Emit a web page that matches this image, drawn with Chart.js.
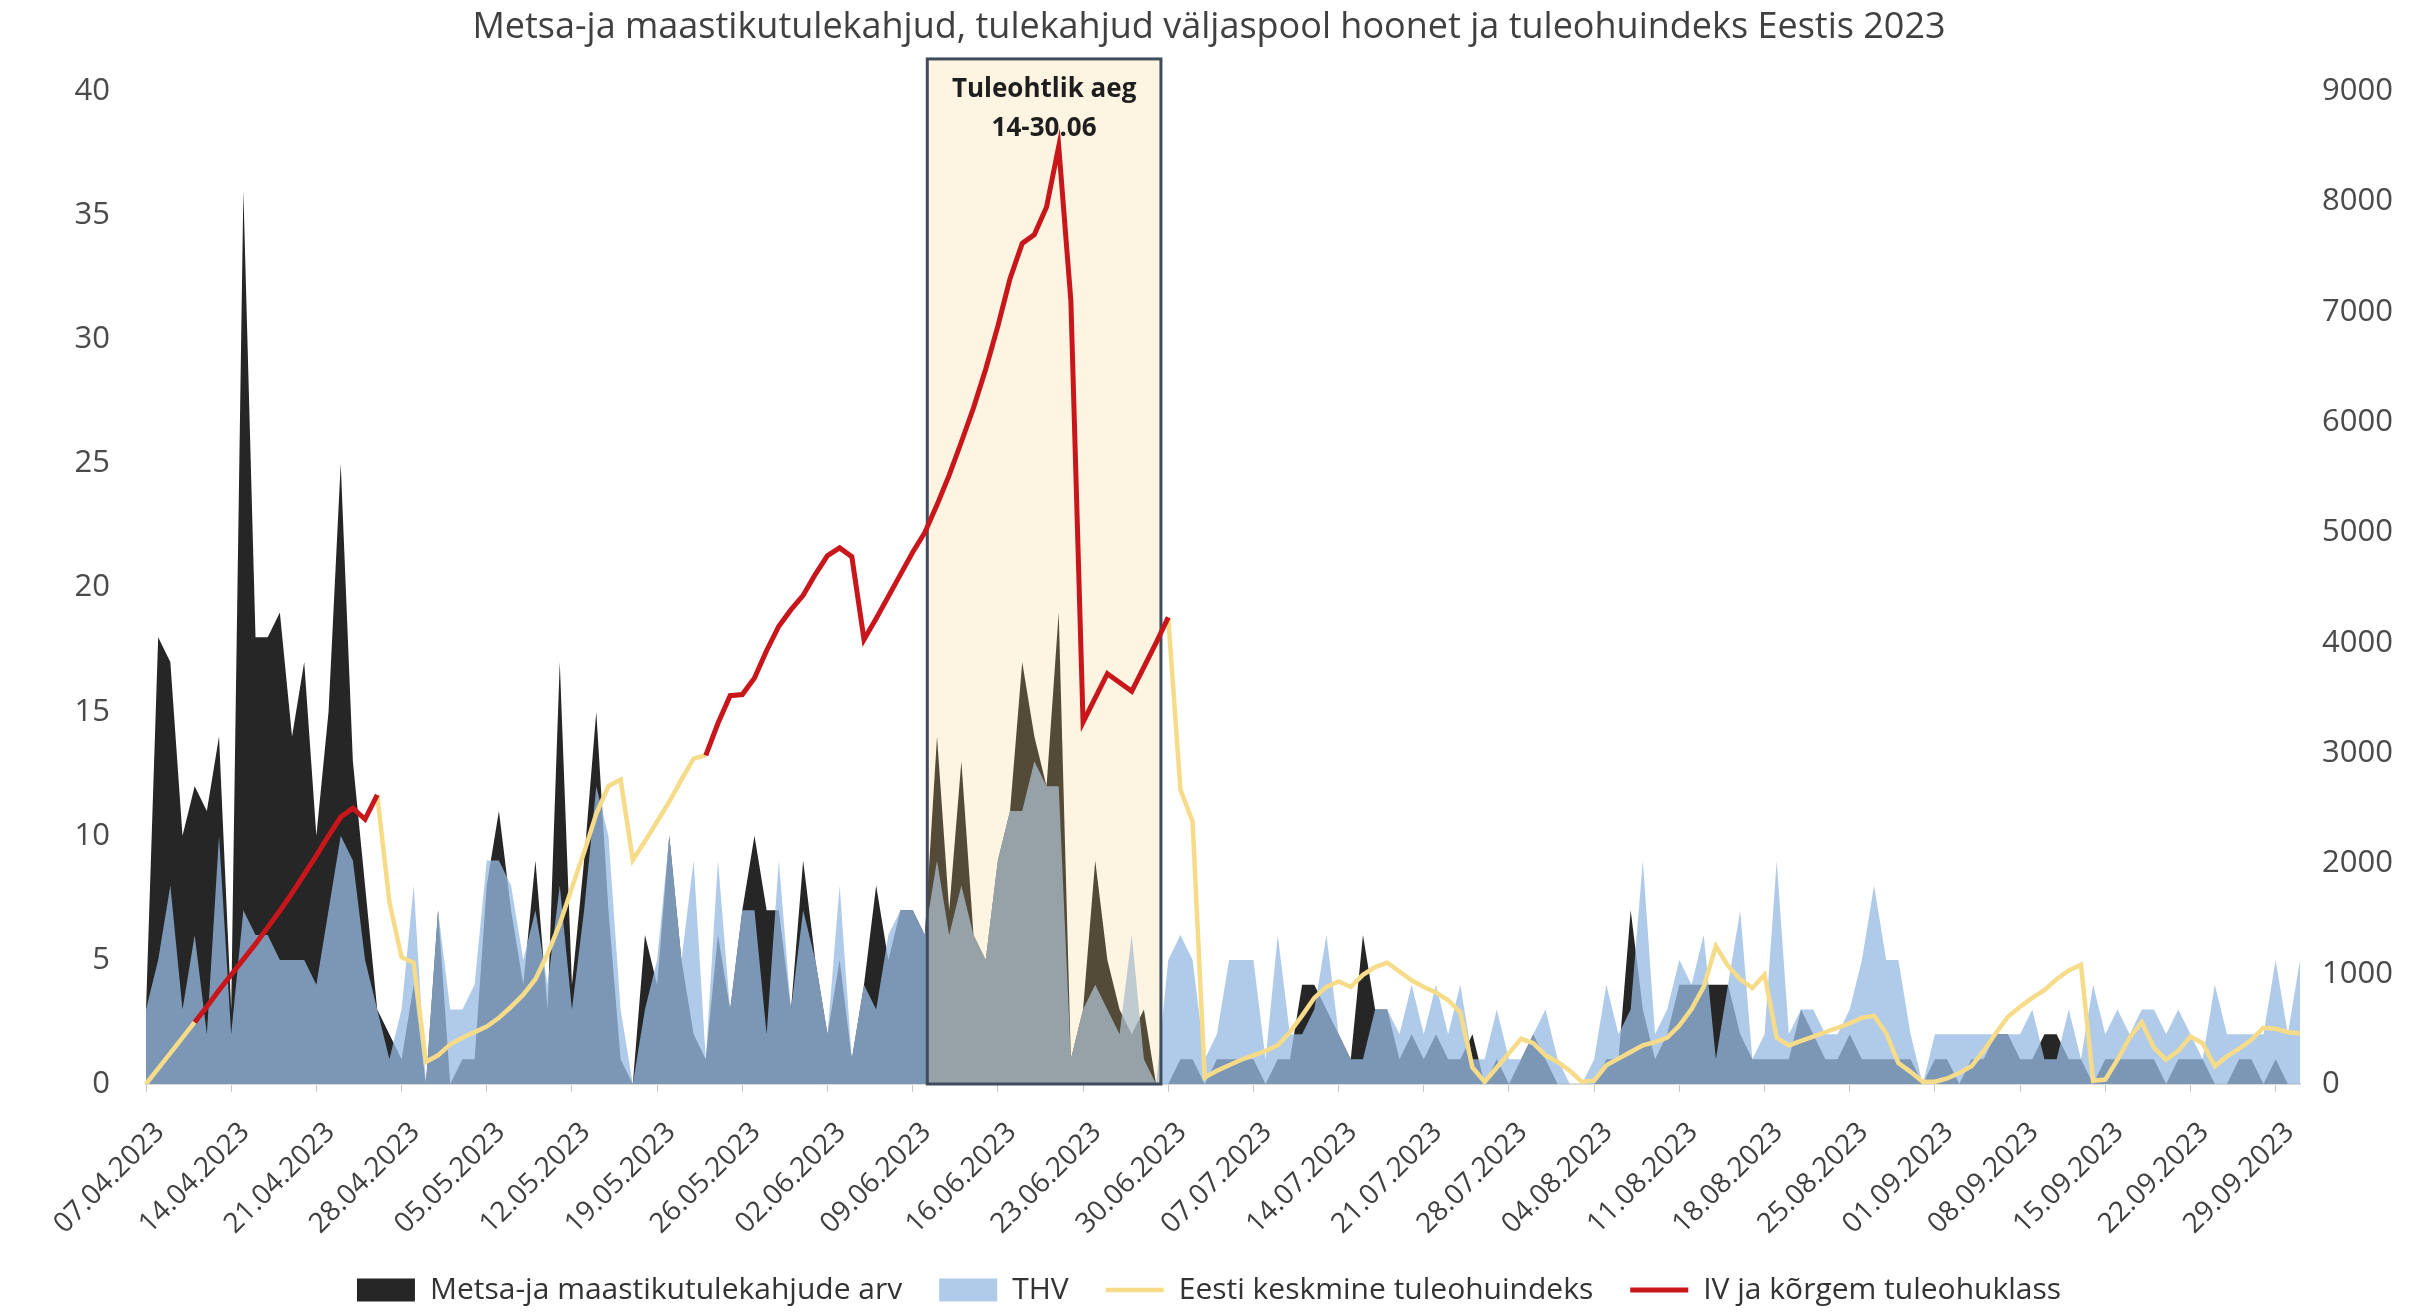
<!DOCTYPE html>
<html>
<head>
<meta charset="utf-8">
<script src="https://cdn.jsdelivr.net/npm/chart.js@4.4.0/dist/chart.umd.min.js"></script>
<style>
  html, body { margin: 0; padding: 0; background: #fff; }
  #wrap { width: 2418px; height: 1315px; }
</style>
</head>
<body>
<div id="wrap"><canvas id="chart" width="2418" height="1315"></canvas></div>
<script>
// daily categories 07.04.2023 .. 01.10.2023
const firstDay = new Date(2023, 3, 7);
const dayCount = 178;
const days = [];
for (let i = 0; i < dayCount; i++) {
    const d = new Date(firstDay.getFullYear(), firstDay.getMonth(), firstDay.getDate() + i);
    days.push(String(d.getDate()).padStart(2, '0') + '.' + String(d.getMonth() + 1).padStart(2, '0') + '.' + d.getFullYear());
}

// Metsa-ja maastikutulekahjude arv (left axis), one row per week
const forestFires = [
    3, 18, 17, 10, 12, 11, 14,
    3, 36, 18, 18, 19, 14, 17,
    10, 15, 25, 13, 8, 3, 2,
    1, 4, 0, 7, 0, 1, 1,
    8, 11, 7, 4, 9, 3, 17,
    4, 9, 15, 7, 1, 0, 6,
    4, 10, 5, 2, 1, 6, 3,
    7, 10, 7, 7, 3, 9, 5,
    2, 5, 1, 4, 8, 5, 7,
    7, 6, 14, 7, 13, 6, 5,
    9, 11, 17, 14, 12, 19, 1,
    3, 9, 5, 3, 2, 3, 0,
    0, 1, 1, 0, 1, 1, 1,
    1, 0, 1, 1, 4, 4, 3,
    2, 1, 6, 3, 3, 1, 2,
    1, 2, 1, 1, 2, 0, 1,
    0, 1, 2, 1, 0, 0, 0,
    0, 1, 1, 7, 3, 1, 2,
    4, 4, 4, 4, 4, 2, 1,
    1, 1, 1, 3, 2, 1, 1,
    2, 1, 1, 1, 1, 1, 0,
    1, 1, 0, 1, 1, 2, 2,
    1, 1, 2, 2, 1, 1, 0,
    1, 1, 1, 1, 1, 0, 1,
    1, 1, 0, 0, 1, 1, 0,
    1, 0, 0
];

// THV (left axis)
const thv = [
    3, 5, 8, 3, 6, 2, 10,
    2, 7, 6, 6, 5, 5, 5,
    4, 7, 10, 9, 5, 3, 1,
    3, 8, 0, 7, 3, 3, 4,
    9, 9, 8, 5, 7, 4, 8,
    3, 7, 12, 10, 3, 0, 3,
    5, 10, 5, 9, 1, 9, 3,
    7, 7, 2, 9, 3, 7, 5,
    2, 8, 1, 4, 3, 6, 7,
    7, 6, 9, 6, 8, 6, 5,
    9, 11, 11, 13, 12, 12, 1,
    3, 4, 3, 2, 6, 1, 0,
    5, 6, 5, 1, 2, 5, 5,
    5, 1, 6, 2, 2, 3, 6,
    2, 1, 1, 3, 3, 2, 4,
    2, 4, 2, 4, 1, 1, 3,
    1, 1, 2, 3, 1, 0, 0,
    1, 4, 2, 3, 9, 2, 3,
    5, 4, 6, 1, 4, 7, 1,
    2, 9, 2, 3, 3, 2, 2,
    3, 5, 8, 5, 5, 2, 0,
    2, 2, 2, 2, 2, 2, 2,
    2, 3, 1, 1, 3, 1, 4,
    2, 3, 2, 3, 3, 2, 3,
    2, 1, 4, 2, 2, 2, 2,
    5, 2, 5
];

// Eesti keskmine tuleohuindeks (right axis), gaps where the red class IV line runs
const avgIndex = [
    0, 140, 280, 420, 560, null, null,
    null, null, null, null, null, null, null,
    null, null, null, null, null, 2620, 1650,
    1150, 1100, 200, 260, 360, 420, 470,
    520, 600, 700, 810, 950, 1180, 1450,
    1780, 2100, 2450, 2700, 2760, 2030, 2200,
    2380, 2560, 2760, 2950, 2980, null, null,
    null, null, null, null, null, null, null,
    null, null, null, null, null, null, null,
    null, null, null, null, null, null, null,
    null, null, null, null, null, null, null,
    null, null, null, null, null, null, null,
    4230, 2670, 2380, 60, 120, 170, 220,
    260, 300, 350, 470, 620, 780, 880,
    930, 880, 990, 1060, 1100, 1020, 940,
    880, 830, 760, 650, 150, 20, 150,
    280, 410, 370, 260, 200, 120, 20,
    30, 170, 230, 290, 350, 380, 420,
    530, 680, 880, 1250, 1070, 950, 870,
    990, 420, 350, 390, 430, 470, 510,
    550, 600, 620, 460, 190, 110, 20,
    20, 50, 100, 160, 300, 460, 610,
    700, 780, 850, 950, 1030, 1080, 30,
    40, 220, 420, 560, 330, 220, 300,
    430, 370, 160, 250, 320, 400, 510,
    500, 470, 460
];

// IV ja kõrgem tuleohuklass (right axis)
const highClass = [
    null, null, null, null, 560, 700, 850,
    990, 1130, 1270, 1420, 1570, 1730, 1900,
    2070, 2250, 2420, 2500, 2400, 2620, null,
    null, null, null, null, null, null, null,
    null, null, null, null, null, null, null,
    null, null, null, null, null, null, null,
    null, null, null, null, 2980, 3270, 3520,
    3530, 3680, 3930, 4150, 4300, 4430, 4620,
    4790, 4860, 4780, 4030, 4220, 4420, 4620,
    4820, 5000, 5250, 5520, 5820, 6130, 6480,
    6870, 7300, 7620, 7700, 7950, 8500, 7100,
    3280, 3500, 3720, 3640, 3560, 3780, 4000,
    4230, null, null, null, null, null, null
];
while (highClass.length < dayCount) highClass.push(null);

const leftTicks = { min: 0, max: 40, step: 5 };
const rightTicks = { min: 0, max: 9000, step: 1000 };

// shaded "Tuleohtlik aeg" frame, in scale units
const frame = { from: 64.2, to: 83.4, top: 41.3, lines: ['Tuleohtlik aeg', '14-30.06'] };

const FONT = "'Open Sans', sans-serif";
const TEXT = '#4A4A4A';

const framePlugin = {
    id: 'framePlugin',
    afterDatasetDraw(chart, args) {
        if (args.index !== 1) return; // right after THV area, under the lines
        const { ctx } = chart;
        const xs = chart.scales.x, ys = chart.scales.y;
        const l = xs.getPixelForValue(frame.from);
        const r = xs.getPixelForValue(frame.to);
        const t = ys.getPixelForValue(frame.top);
        const b = ys.getPixelForValue(0);
        ctx.save();
        ctx.fillStyle = 'rgba(245, 205, 120, 0.22)';
        ctx.fillRect(l, t, r - l, b - t);
        ctx.strokeStyle = '#3E4C5E';
        ctx.lineWidth = 3;
        ctx.strokeRect(l, t, r - l, b - t);
        ctx.fillStyle = '#1E1E1E';
        ctx.font = "bold 26px " + FONT;
        ctx.textAlign = 'center';
        ctx.textBaseline = 'middle';
        ctx.fillText(frame.lines[0], (l + r) / 2, t + 31);
        ctx.fillText(frame.lines[1], (l + r) / 2, t + 70);
        ctx.restore();
    }
};

const ctx = document.getElementById('chart');
new Chart(ctx, {
    type: 'line',
    data: {
        labels: days,
        datasets: [
            {
                label: 'Metsa-ja maastikutulekahjude arv',
                data: forestFires,
                yAxisID: 'y',
                order: 4,
                fill: 'origin',
                backgroundColor: '#262626',
                borderWidth: 0,
                pointRadius: 0,
                pointStyle: 'rect',
                pointBackgroundColor: '#262626',
                pointBorderWidth: 0,
                tension: 0
            },
            {
                label: 'THV',
                data: thv,
                yAxisID: 'y',
                order: 3,
                fill: 'origin',
                backgroundColor: 'rgba(150, 186, 226, 0.76)',
                borderWidth: 0,
                pointRadius: 0,
                pointStyle: 'rect',
                pointBackgroundColor: 'rgba(150, 186, 226, 0.76)',
                pointBorderWidth: 0,
                tension: 0
            },
            {
                label: 'Eesti keskmine tuleohuindeks',
                data: avgIndex,
                yAxisID: 'y1',
                order: 2,
                fill: false,
                borderColor: '#F6DB88',
                borderWidth: 4.5,
                pointRadius: 0,
                pointStyle: 'line',
                pointBorderColor: '#F6DB88',
                pointBorderWidth: 4.5,
                spanGaps: false,
                tension: 0
            },
            {
                label: 'IV ja kõrgem tuleohuklass',
                data: highClass,
                yAxisID: 'y1',
                order: 1,
                fill: false,
                borderColor: '#C8161B',
                borderWidth: 5,
                pointRadius: 0,
                pointStyle: 'line',
                pointBorderColor: '#C8161B',
                pointBorderWidth: 5,
                spanGaps: false,
                tension: 0
            }
        ]
    },
    options: {
        responsive: false,
        animation: false,
        devicePixelRatio: 1,
        layout: { padding: 0 },
        plugins: {
            title: {
                display: true,
                text: 'Metsa-ja maastikutulekahjud, tulekahjud väljaspool hoonet ja tuleohuindeks Eestis 2023',
                color: '#404040',
                font: { family: FONT, size: 36, weight: 'normal' },
                padding: { top: 6, bottom: 42 }
            },
            legend: {
                position: 'bottom',
                labels: {
                    usePointStyle: true,
                    pointStyleWidth: 58,
                    boxHeight: 23,
                    padding: 37,
                    color: '#333333',
                    font: { family: FONT, size: 30 },
                    sort: (a, b) => a.datasetIndex - b.datasetIndex
                }
            },
            tooltip: { enabled: false }
        },
        scales: {
            x: {
                ticks: {
                    autoSkip: false,
                    minRotation: 45,
                    maxRotation: 45,
                    padding: 24,
                    labelOffset: 14,
                    color: '#404040',
                    font: { family: FONT, size: 28 },
                    callback(value, index) { return index % 7 === 0 ? this.getLabelForValue(value) : ''; }
                },
                grid: {
                    drawOnChartArea: false,
                    tickLength: 8,
                    tickColor: c => (c.index % 7 === 0 ? '#C8C8C8' : 'rgba(0,0,0,0)')
                },
                border: { color: '#D9D9D9', width: 2 },
                afterFit(scale) { scale.height = 154; }
            },
            y: {
                position: 'left',
                min: leftTicks.min,
                max: leftTicks.max,
                ticks: { stepSize: leftTicks.step, padding: 28, color: TEXT, font: { family: FONT, size: 31 } },
                grid: { display: false },
                border: { display: false },
                afterFit(scale) { scale.width = 146; }
            },
            y1: {
                position: 'right',
                min: rightTicks.min,
                max: rightTicks.max,
                ticks: {
                    stepSize: rightTicks.step, padding: 14, color: TEXT, font: { family: FONT, size: 31 },
                    callback: v => String(v)
                },
                grid: { display: false },
                border: { display: false },
                afterFit(scale) { scale.width = 118; }
            }
        }
    },
    plugins: [framePlugin]
});
</script>
</body>
</html>
